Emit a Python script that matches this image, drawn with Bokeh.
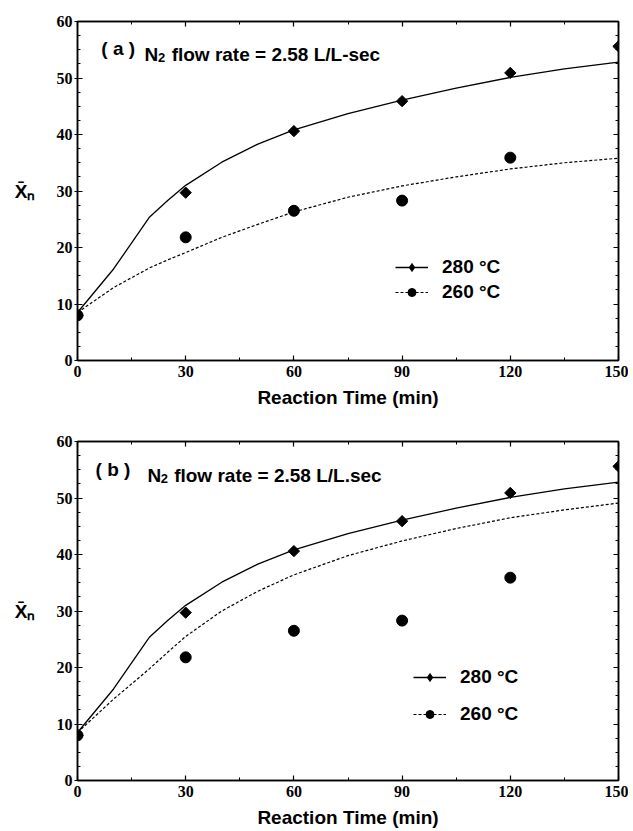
import math
from bokeh.plotting import figure
from bokeh.models import (Range1d, LinearAxis, Label, Legend, LegendItem,
                          CustomJSTickFormatter, SingleIntervalTicker)
from bokeh.layouts import column
from bokeh.embed import file_html
from bokeh.resources import INLINE

# ---------------- data ----------------
t_obs_280 = [0, 30, 60, 90, 120, 150]
xn_obs_280 = [8.0, 29.7, 40.6, 45.9, 50.9, 55.6]
t_obs_260 = [0, 30, 60, 90, 120]
xn_obs_260 = [8.0, 21.8, 26.5, 28.3, 35.9]

t_model = [0, 10, 20, 25, 30, 40, 50, 60, 75, 90, 105, 120, 135, 150]
model_280 = [8.5, 16.2, 25.4, 28.3, 31.0, 35.1, 38.3, 40.8, 43.7, 46.1, 48.2, 50.1, 51.6, 52.8]
model_260_a = [8.5, 12.9, 16.4, 17.8, 19.1, 21.8, 24.1, 26.3, 28.9, 30.9, 32.5, 33.9, 35.0, 35.8]
model_260_b = [8.5, 14.4, 19.8, 22.7, 25.5, 30.0, 33.5, 36.4, 39.8, 42.4, 44.6, 46.5, 47.9, 49.1]

x_ticks_interval = 30
y_ticks_interval = 10
legend_labels = ["280 °C", "260 °C"]
x_title = "Reaction Time (min)"
y_title = "X\u0304\u2099"

SANS = "Liberation Sans"
SERIF = "Liberation Serif"


def style_axis(ax, tick_out):
    ax.axis_line_width = 1.5
    ax.major_tick_line_width = 1.2
    ax.minor_tick_line_width = 1.0
    ax.major_tick_in = 5
    ax.major_tick_out = tick_out
    ax.minor_tick_in = 3
    ax.minor_tick_out = 0
    ax.major_label_text_font = SERIF
    ax.major_label_text_font_style = "bold"
    ax.major_label_text_font_size = "16px"
    ax.major_label_text_color = "black"


def make_panel(tag, rate_text, model_260, height, top, bottom, leg_loc, leg_spacing,
               tag_x, tag_y, n_x, n_y, flow_x):
    p = figure(width=628, height=height, x_range=Range1d(0, 150), y_range=Range1d(0, 60),
               output_backend="svg", toolbar_location=None,
               min_border_left=77, min_border_right=10, min_border_top=top,
               min_border_bottom=bottom)
    p.xgrid.visible = False
    p.ygrid.visible = False
    p.outline_line_color = "black"
    p.outline_line_width = 1.5
    p.background_fill_color = "white"
    p.border_fill_color = "white"

    p.xaxis.ticker = SingleIntervalTicker(interval=x_ticks_interval, num_minor_ticks=2)
    p.yaxis.ticker = SingleIntervalTicker(interval=y_ticks_interval, num_minor_ticks=4)
    xa = p.xaxis[0]
    ya = p.yaxis[0]
    style_axis(xa, 0)
    style_axis(ya, 3)
    xa.major_label_standoff = 5
    ya.major_label_standoff = 2
    xa.axis_label = x_title
    xa.axis_label_text_font = SANS
    xa.axis_label_text_font_style = "bold"
    xa.axis_label_text_font_size = "19px"
    xa.axis_label_text_color = "black"
    xa.axis_label_standoff = 7

    ya.axis_label = y_title
    ya.axis_label_orientation = "horizontal"
    ya.axis_label_text_font = SANS
    ya.axis_label_text_font_style = "bold"
    ya.axis_label_text_font_size = "19px"
    ya.axis_label_text_color = "black"
    ya.axis_label_standoff = 18

    blank = CustomJSTickFormatter(code="return ''")
    top_ax = LinearAxis(ticker=SingleIntervalTicker(interval=x_ticks_interval, num_minor_ticks=2),
                        formatter=blank, major_label_standoff=0)
    right_ax = LinearAxis(ticker=SingleIntervalTicker(interval=y_ticks_interval, num_minor_ticks=4),
                          formatter=blank, major_label_standoff=0)
    style_axis(top_ax, 0)
    style_axis(right_ax, 0)
    p.add_layout(top_ax, "above")
    p.add_layout(right_ax, "right")

    # small markers (hidden under big ones) used for legend symbols
    s280 = p.scatter(t_obs_280, xn_obs_280, marker="diamond", size=9, color="black")
    s260 = p.scatter(t_obs_260, xn_obs_260, marker="circle", size=7, color="black")

    l280 = p.line(t_model, model_280, line_color="black", line_width=1.3)
    l260 = p.line(t_model, model_260, line_color="black", line_width=1.2, line_dash="3 2")

    p.scatter(t_obs_280, xn_obs_280, marker="square", angle=math.pi / 4, size=8, color="black")
    p.scatter(t_obs_260, xn_obs_260, marker="circle", size=11, color="black")

    legend = Legend(items=[LegendItem(label=legend_labels[0], renderers=[l280, s280]),
                           LegendItem(label=legend_labels[1], renderers=[l260, s260])],
                    location=leg_loc, orientation="vertical",
                    glyph_width=33, glyph_height=20, label_height=20,
                    label_standoff=14, spacing=leg_spacing, padding=0, margin=0,
                    border_line_color=None, background_fill_alpha=0,
                    label_text_font=SANS, label_text_font_style="bold",
                    label_text_font_size="19px", label_text_color="black")
    p.add_layout(legend)

    common = dict(text_font=SANS, text_font_style="bold", text_color="black",
                  text_baseline="alphabetic")
    p.add_layout(Label(x=tag_x, y=tag_y, text=tag, text_font_size="19px", **common))
    p.add_layout(Label(x=n_x, y=n_y, text="N", text_font_size="19px", **common))
    p.add_layout(Label(x=n_x + 3.7, y=n_y - 0.55, text="2", text_font_size="13px", **common))
    p.add_layout(Label(x=flow_x, y=n_y, text=rate_text, text_font_size="19px", **common))
    return p


p1 = make_panel("( a )", "flow rate = 2.58 L/L-sec", model_260_a, 411, 21, 51,
                (318, 57), 3, 6.6, 55.3, 18.6, 54.2, 26.1)
p2 = make_panel("( b )", "flow rate = 2.58 L/L.sec", model_260_b, 420, 30, 51,
                (336, 55), 15, 5.0, 55.0, 19.4, 54.0, 26.8)

layout = column(p1, p2, spacing=0)
open("out.html", "w").write(file_html(layout, INLINE))
